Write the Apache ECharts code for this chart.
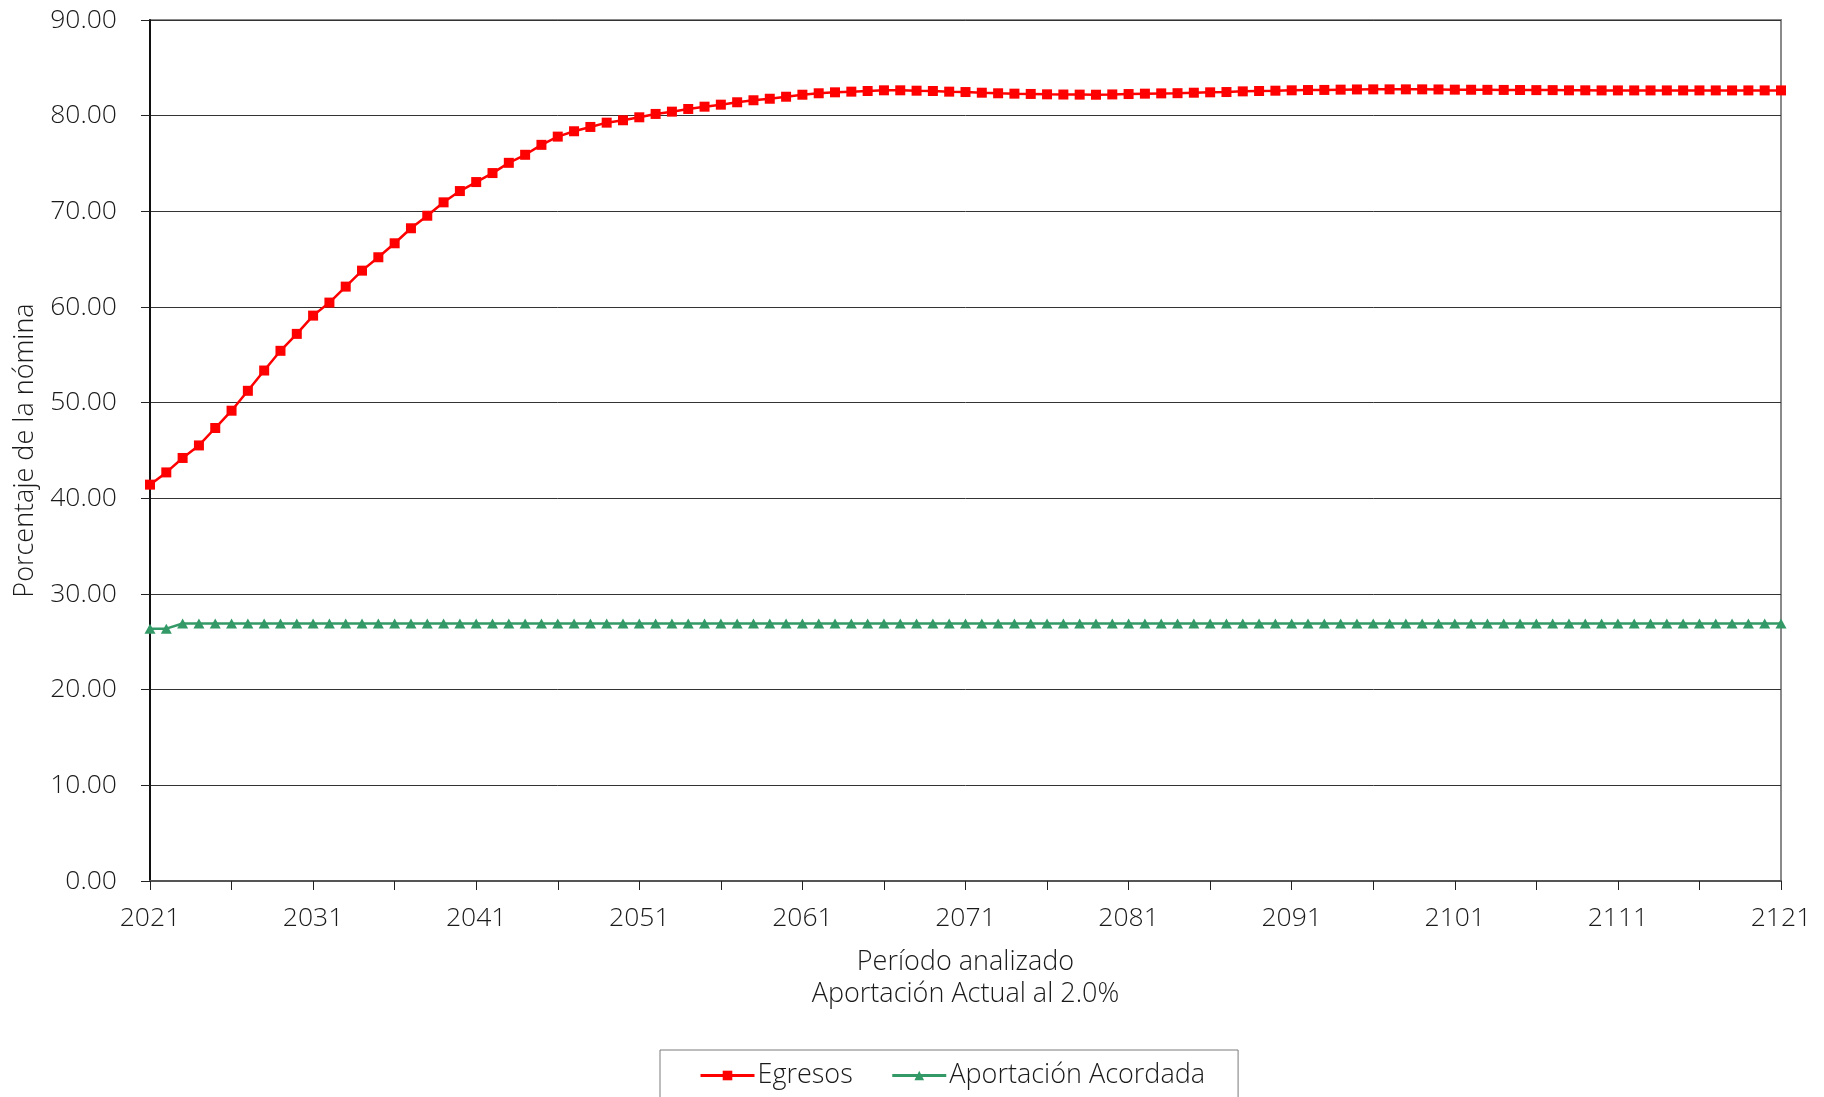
<!DOCTYPE html>
<html>
<head>
<meta charset="utf-8">
<script src="https://cdn.jsdelivr.net/npm/echarts@6/dist/echarts.min.js"></script>
<style>
html,body{margin:0;padding:0;background:#fff;}
#chart{width:1824px;height:1097px;}
</style>
</head>
<body>
<div id="chart"></div>
<script>
var years = ['2021','2022','2023','2024','2025','2026','2027','2028','2029','2030',
'2031','2032','2033','2034','2035','2036','2037','2038','2039','2040',
'2041','2042','2043','2044','2045','2046','2047','2048','2049','2050',
'2051','2052','2053','2054','2055','2056','2057','2058','2059','2060',
'2061','2062','2063','2064','2065','2066','2067','2068','2069','2070',
'2071','2072','2073','2074','2075','2076','2077','2078','2079','2080',
'2081','2082','2083','2084','2085','2086','2087','2088','2089','2090',
'2091','2092','2093','2094','2095','2096','2097','2098','2099','2100',
'2101','2102','2103','2104','2105','2106','2107','2108','2109','2110',
'2111','2112','2113','2114','2115','2116','2117','2118','2119','2120','2121'];

var egresos = [41.43,42.71,44.22,45.53,47.35,49.16,51.24,53.36,55.42,57.19,
59.10,60.46,62.13,63.80,65.20,66.66,68.23,69.54,70.94,72.12,
73.06,74.00,75.07,75.91,76.95,77.81,78.37,78.82,79.27,79.52,
79.83,80.18,80.42,80.70,80.94,81.15,81.40,81.61,81.77,81.98,
82.19,82.34,82.44,82.51,82.58,82.65,82.65,82.61,82.58,82.51,
82.47,82.40,82.34,82.30,82.27,82.23,82.21,82.20,82.19,82.22,
82.26,82.30,82.33,82.35,82.40,82.44,82.47,82.54,82.58,82.61,
82.65,82.68,82.69,82.72,82.74,82.75,82.75,82.75,82.75,82.74,
82.72,82.71,82.70,82.69,82.68,82.67,82.67,82.65,82.65,82.64,
82.64,82.64,82.64,82.64,82.64,82.64,82.64,82.64,82.64,82.64,82.64];

var aportacion = [26.38,26.38,26.91,26.91,26.91,26.91,26.91,26.91,26.91,26.91,
26.91,26.91,26.91,26.91,26.91,26.91,26.91,26.91,26.91,26.91,
26.91,26.91,26.91,26.91,26.91,26.91,26.91,26.91,26.91,26.91,
26.91,26.91,26.91,26.91,26.91,26.91,26.91,26.91,26.91,26.91,
26.91,26.91,26.91,26.91,26.91,26.91,26.91,26.91,26.91,26.91,
26.91,26.91,26.91,26.91,26.91,26.91,26.91,26.91,26.91,26.91,
26.91,26.91,26.91,26.91,26.91,26.91,26.91,26.91,26.91,26.91,
26.91,26.91,26.91,26.91,26.91,26.91,26.91,26.91,26.91,26.91,
26.91,26.91,26.91,26.91,26.91,26.91,26.91,26.91,26.91,26.91,
26.91,26.91,26.91,26.91,26.91,26.91,26.91,26.91,26.91,26.91,26.91];

var seriesNames = ['Egresos', 'Aportación Acordada'];
var xTitle = 'Período analizado\nAportación Actual al 2.0%';
var yTitle = 'Porcentaje de la nómina';

var FONT = '"Open Sans", sans-serif';
var TXT = '#1a1a1a';

var chart = echarts.init(document.getElementById('chart'), null, {renderer: 'canvas'});
chart.setOption({
  animation: false,
  backgroundColor: '#fff',
  textStyle: {fontFamily: FONT, fontWeight: 300, color: TXT},
  grid: {left: 150, right: 43, top: 20, bottom: 216, show: true, borderColor: '#8a8a8a', borderWidth: 2, backgroundColor: 'transparent'},
  legend: {
    data: seriesNames,
    left: 660, top: 1050,
    orient: 'horizontal',
    itemWidth: 54, itemHeight: 12, itemGap: 38,
    padding: [12, 33, 40, 39],
    borderColor: '#7a7a7a', borderWidth: 1,
    lineStyle: {width: 3},
    textStyle: {fontFamily: FONT, fontWeight: 300, fontSize: 27, color: TXT, padding: [0, 0, 0, -2]}
  },
  xAxis: {
    type: 'category',
    data: years,
    boundaryGap: false,
    name: xTitle,
    nameLocation: 'middle',
    nameGap: 65,
    nameTextStyle: {fontFamily: FONT, fontWeight: 300, fontSize: 27, color: TXT, lineHeight: 32},
    axisLine: {show: true, lineStyle: {color: '#555', width: 2}},
    axisTick: {show: true, interval: 4, length: 9, inside: false, lineStyle: {color: '#222', width: 1}},
    axisLabel: {interval: 9, margin: 24, fontFamily: FONT, fontWeight: 300, fontSize: 26.5, color: TXT},
    splitLine: {show: false}
  },
  yAxis: {
    type: 'value',
    min: 0, max: 90, interval: 10,
    name: yTitle,
    nameLocation: 'middle',
    nameRotate: 90,
    nameGap: 108,
    nameTextStyle: {fontFamily: FONT, fontWeight: 300, fontSize: 27, color: TXT},
    axisLine: {show: true, lineStyle: {color: '#111', width: 2}},
    axisTick: {show: true, length: 9, inside: false, lineStyle: {color: '#222', width: 1}},
    axisLabel: {margin: 33, fontFamily: FONT, fontWeight: 300, fontSize: 26.5, color: TXT,
      formatter: function (v) { return v.toFixed(2); }},
    splitLine: {show: true, lineStyle: {color: '#333', width: 1}}
  },
  series: [
    {
      name: seriesNames[0], type: 'line', data: egresos,
      symbol: 'rect', symbolSize: 10, showSymbol: true,
      itemStyle: {color: '#ff0000'},
      lineStyle: {color: '#ff0000', width: 2.5}
    },
    {
      name: seriesNames[1], type: 'line', data: aportacion,
      symbol: 'triangle', symbolSize: [11, 10], showSymbol: true,
      itemStyle: {color: '#339966'},
      lineStyle: {color: '#339966', width: 2.5}
    }
  ]
});
</script>
</body>
</html>
